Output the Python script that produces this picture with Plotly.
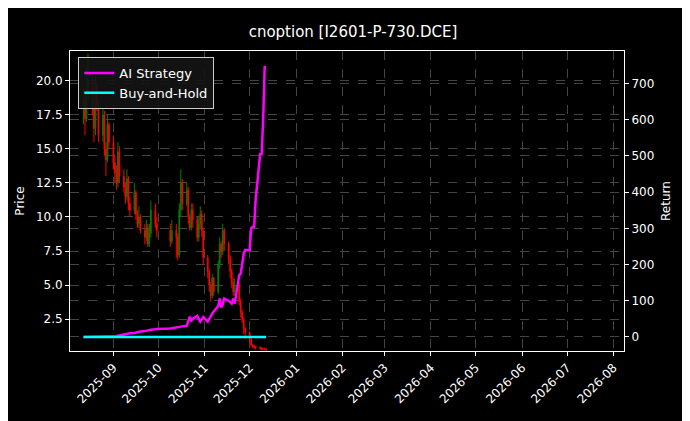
import pandas as pd
import plotly.graph_objects as go

# trading days (Aug 12 - Dec 12 2025, National Day holiday removed)
days = pd.bdate_range("2025-08-12", "2025-12-12")
days = [d for d in days if not (pd.Timestamp("2025-10-01") <= d <= pd.Timestamp("2025-10-08"))]

close = [18.5, 17.2, 19.0, 20.1, 18.0, 16.5, 19.5, 18.2, 16.0, 17.5, 15.0, 14.2, 16.8, 15.5,
         14.0, 13.2, 12.5, 14.8, 13.0, 12.2, 11.5, 12.8, 11.0, 10.5, 11.8, 10.2, 9.5, 10.0, 9.0, 8.5, 9.2, 8.0, 8.8, 10.5, 9.5, 9.0,
         8.2, 9.0, 8.5, 7.2, 10.5, 12.5, 11.0, 12.0, 10.0, 9.2, 10.5, 9.8, 8.5, 9.5, 10.2, 9.0, 7.0,
         6.0, 5.0, 4.2, 5.5, 4.5, 6.5, 8.0, 7.5, 9.0, 8.0, 7.0, 6.0, 5.2, 4.5, 5.0, 3.8, 3.0, 2.5, 1.8, 1.5,
         1.0, 0.6, 0.5, 0.45, 0.4, 0.35, 0.3, 0.3, 0.3, 0.25]
open_ = [18.0] + close[:-1]
high = [19.5, 19.0, 21.0, 22.0, 20.5, 18.5, 20.5, 19.8, 18.5, 18.0, 17.8, 15.5, 17.5, 17.0,
        16.0, 14.5, 13.8, 15.5, 15.2, 13.5, 12.5, 13.5, 13.0, 11.5, 12.5, 12.0, 10.5, 10.8, 10.2, 9.5, 9.8, 9.5, 9.5, 11.2, 11.0, 10.0,
        9.5, 9.8, 9.5, 8.8, 11.0, 13.5, 12.8, 12.5, 12.2, 10.2, 11.0, 11.0, 10.0, 10.0, 10.8, 10.5, 9.2,
        7.2, 6.2, 5.2, 5.8, 5.6, 6.8, 8.5, 8.2, 9.5, 9.2, 8.2, 7.2, 6.2, 5.5, 5.5, 5.2, 4.0, 3.2, 2.6, 1.9,
        1.6, 1.1, 0.7, 0.6, 0.55, 0.5, 0.45, 0.4, 0.4, 0.35]
low = [16.8, 16.0, 17.0, 18.5, 17.5, 15.5, 16.0, 17.8, 15.5, 15.5, 14.5, 13.0, 14.0, 15.0,
       13.5, 12.5, 12.0, 12.2, 12.5, 11.8, 11.0, 11.2, 10.5, 10.0, 10.2, 9.8, 9.2, 9.2, 8.8, 8.0, 8.2, 7.8, 7.8, 8.5, 9.2, 8.5,
       7.8, 8.0, 7.0, 6.8, 7.0, 10.0, 10.5, 10.8, 9.5, 9.0, 9.0, 9.2, 8.2, 8.2, 9.2, 8.5, 6.5,
       5.5, 4.5, 3.8, 4.0, 4.2, 4.3, 6.2, 7.0, 7.2, 7.5, 6.5, 5.5, 4.8, 4.2, 4.2, 3.5, 2.6, 2.2, 1.4, 1.0,
       0.8, 0.5, 0.35, 0.3, 0.3, 0.25, 0.2, 0.2, 0.2, 0.15]

ai_return = [0] * 14 + [0, 1, 2, 3, 4, 5, 6, 8, 9, 10, 11, 12, 13, 14, 15, 16, 17, 18, 19, 20, 21, 22,
             23, 24, 25, 26, 27, 28, 29, 31, 45, 56, 45, 50, 58, 50, 42, 48, 55,
             42, 50, 60, 64, 70, 85, 106, 81, 90, 106, 100, 95, 92, 106, 92, 170, 175, 200, 230, 240,
             240, 300, 304, 304, 380, 505, 505, 600, 745, 745]
bh_return = [0] * len(close)

fig = go.Figure()
fig.add_trace(go.Candlestick(x=days, open=open_, high=high, low=low, close=close,
                             increasing=dict(line=dict(color="green", width=1), fillcolor="green"),
                             decreasing=dict(line=dict(color="red", width=1), fillcolor="red"),
                             whiskerwidth=0, showlegend=False))
fig.add_trace(go.Scatter(x=days, y=ai_return, name="AI Strategy", yaxis="y2",
                         line=dict(color="magenta", width=2.5)))
fig.add_trace(go.Scatter(x=days, y=bh_return, name="Buy-and-Hold", yaxis="y2",
                         line=dict(color="cyan", width=2.5)))

grid = dict(showgrid=True, gridcolor="#444", griddash="dash", gridwidth=0.6,
            zeroline=False, showline=True, linecolor="white", mirror=True, automargin=False,
            ticks="outside", tickcolor="white", ticklen=4, tickfont=dict(color="white", size=12))
fig.update_layout(
    width=690, height=421, paper_bgcolor="black", plot_bgcolor="black",
    font=dict(family="DejaVu Sans", color="white", size=12),
    title=dict(text="cnoption [I2601-P-730.DCE]", x=0.5, y=0.955, xanchor="center", font=dict(size=15)),
    margin=dict(l=62, r=74, t=43, b=78),
    showlegend=True,
    legend=dict(x=0.015, y=0.98, bgcolor="rgba(20,20,20,0.9)", bordercolor="#ccc", borderwidth=1,
                font=dict(size=13)),
    xaxis=dict(**grid, type="date", range=["2025-08-03", "2026-08-08"], dtick="M1", tick0="2025-09-01",
               tickformat="%Y-%m", tickangle=-45, rangeslider=dict(visible=False)),
    yaxis=dict(**grid, range=[0.15, 22.2], dtick=2.5, tick0=2.5, tickformat=".1f",
               title=dict(text="Price", font=dict(size=12), standoff=8)),
    yaxis2=dict(overlaying="y", side="right", range=[-39, 790], dtick=100, showgrid=True,
                gridcolor="#444", griddash="dash", gridwidth=0.6, automargin=False,
                zeroline=False, showline=True, linecolor="white", ticks="outside", tickcolor="white",
                ticklen=4, title=dict(text="Return", font=dict(size=12), standoff=8)),
)
fig.write_html("out.html")
